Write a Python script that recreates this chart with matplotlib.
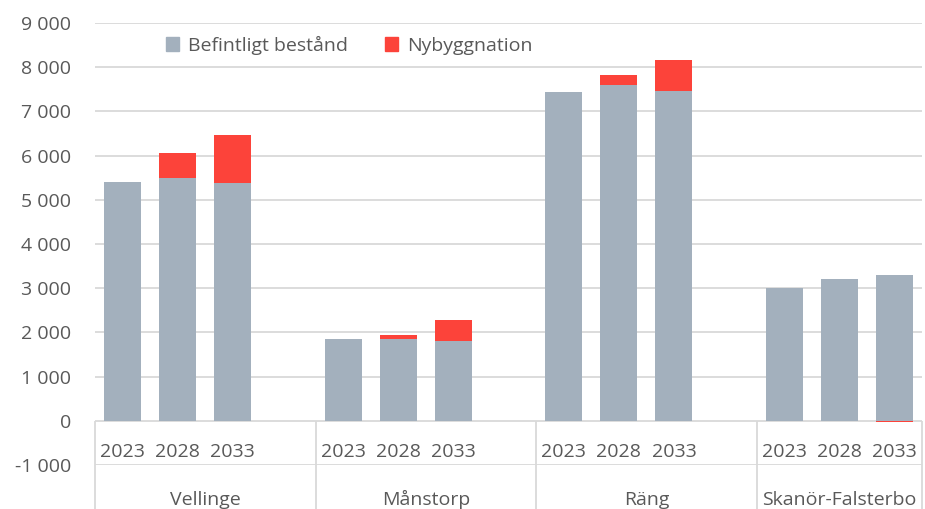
import numpy as np
import matplotlib
matplotlib.use("Agg")
from matplotlib import pyplot as plt
from matplotlib.patches import Patch

# data
groups = ['Vellinge', 'Månstorp', 'Räng', 'Skanör-Falsterbo']
years = ['2023', '2028', '2033']
befintligt = [5400, 5500, 5390, 1860, 1855, 1805, 7445, 7590, 7465, 3010, 3200, 3300]
nybyggnation = [0, 550, 1080, 0, 90, 475, 0, 235, 695, 0, 0, -25]
y_ticks = list(range(-1000, 10000, 1000))

GREY = '#a3b0bd'
RED = '#fc433a'
TXT = '#595959'
LINE = '#d9d9d9'
FS = 14

plt.rcParams['font.family'] = ['Open Sans', 'DejaVu Sans']

fig = plt.figure(figsize=(9.25, 5.09), dpi=100)
ax = fig.add_axes([95/925, 44/509, 827/925, 442/509])

# 3 bars per group plus one empty slot between groups
x = np.array([g*4 + i for g in range(len(groups)) for i in range(len(years))])
bef = np.array(befintligt)
nyb = np.array(nybyggnation)
w = 0.67
ax.bar(x, bef, width=w, color=GREY, zorder=2)
ax.bar(x, nyb, width=w, bottom=np.where(nyb >= 0, bef, 0), color=RED, zorder=2)

ax.set_xlim(-0.5, len(groups)*4 - 1.5)
ax.set_ylim(-1000, 9000)
ax.set_yticks(y_ticks)
ax.set_yticklabels(['{:,}'.format(v).replace(',', ' ') for v in y_ticks])
ax.tick_params(axis='y', length=0, pad=17, labelsize=FS, labelcolor=TXT)
ax.set_xticks([])
for s in ax.spines.values():
    s.set_visible(False)
ax.yaxis.grid(True, color=LINE, linewidth=1.3, zorder=0)
ax.set_axisbelow(True)

# category axis: years and group names under the zero line
for xi, i in zip(x, list(range(len(years)))*len(groups)):
    ax.text(xi, -700, years[i], ha='center', va='center', fontsize=FS, color=TXT)
bounds = [-0.5] + [g*4 + 3.5 for g in range(len(groups) - 1)] + [len(groups)*4 - 1.5]
for g, name in enumerate(groups):
    ax.text((bounds[g] + bounds[g+1]) / 2, -1900, name, ha='center', va='baseline',
            fontsize=FS, color=TXT, clip_on=False)
ax.vlines(bounds, -2000, 0, color=LINE, linewidth=1.3, clip_on=False, zorder=1)

handles = [Patch(color=GREY, label='Befintligt bestånd'),
           Patch(color=RED, label='Nybyggnation')]
fig.legend(handles=handles, ncol=2, loc='center left', bbox_to_anchor=(148/925, 1 - 45/509),
           frameon=False, fontsize=FS, labelcolor=TXT, handlelength=0.7,
           handleheight=0.7, handletextpad=0.45, columnspacing=1.9)

fig.savefig('out.png', dpi=100)
